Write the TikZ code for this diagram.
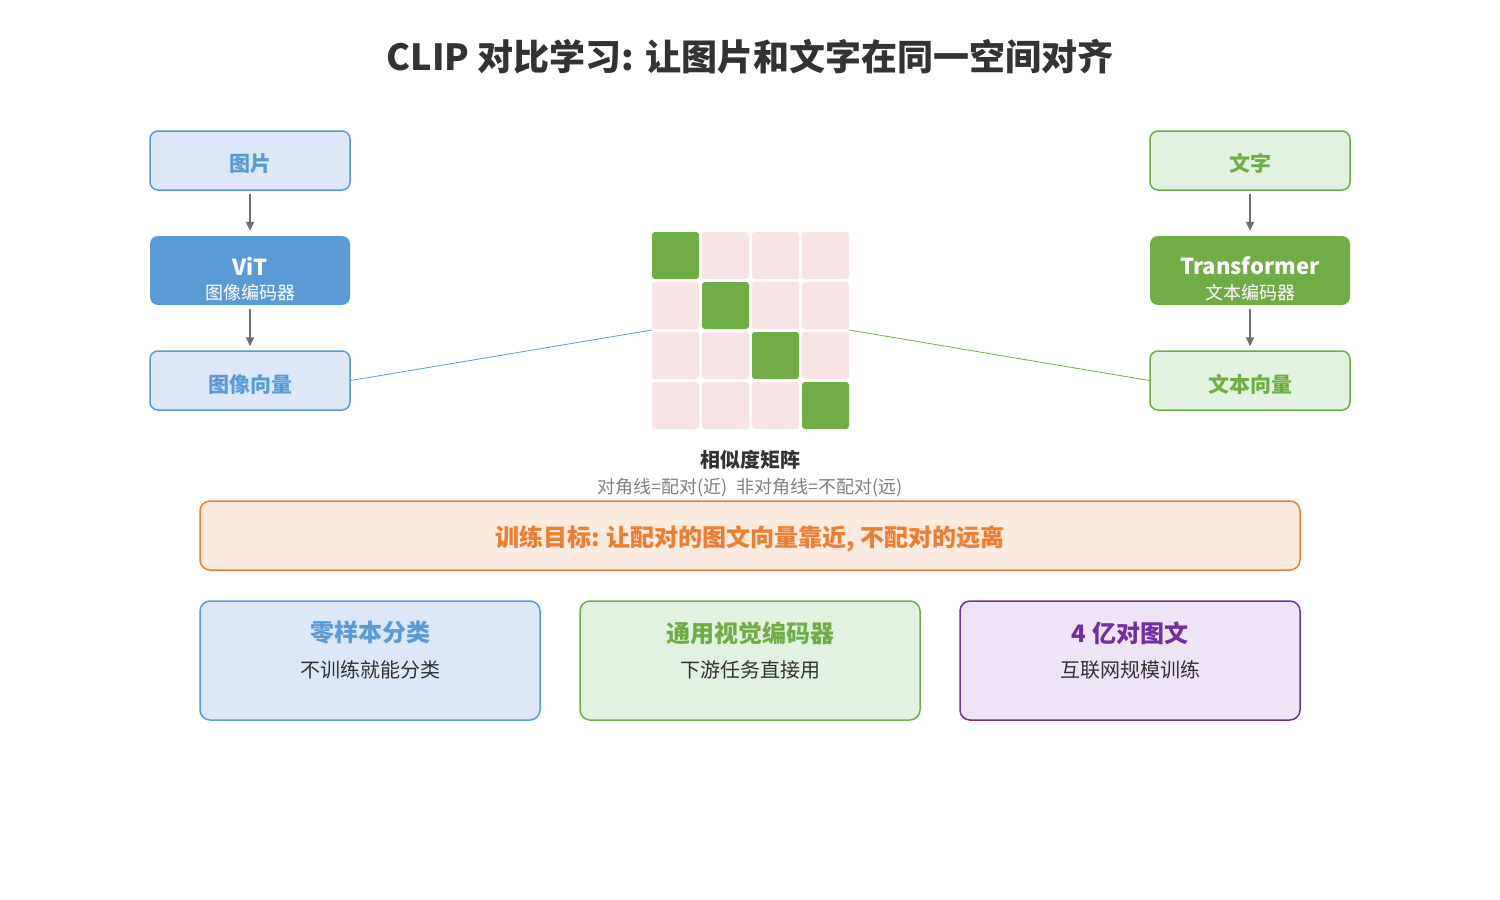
\documentclass[tikz,border=0pt]{standalone}
\usepackage{fontspec}
\setmainfont{Noto Sans CJK SC}
\usetikzlibrary{arrows.meta,calc}
\definecolor{cblue}{HTML}{5B9BD5}
\definecolor{lblue}{HTML}{DCE8F7}
\definecolor{cgreen}{HTML}{70AD47}
\definecolor{lgreen}{HTML}{E2F2E0}
\definecolor{corange}{HTML}{ED7D31}
\definecolor{lorange}{HTML}{FCEBDF}
\definecolor{cpurple}{HTML}{7030A0}
\definecolor{lpurple}{HTML}{EFE3F6}
\definecolor{cpink}{HTML}{F7E4E4}
\definecolor{dtext}{HTML}{333333}
\definecolor{gtext}{HTML}{808080}
\definecolor{arr}{HTML}{707070}
\newcommand{\lowr}[2]{\raisebox{-#1}[\height][\depth]{#2}}
\tikzset{
  x=1pt,y=-1pt,
  box/.style={draw,line width=1.5pt,rounded corners=8pt,minimum width=200pt,minimum height=59pt,inner sep=0pt,font=\fontsize{21}{24}\selectfont\bfseries},
  enc/.style={rounded corners=8pt,minimum width=200pt,minimum height=69pt,inner sep=0pt},
  flow/.style={draw=arr,line width=2pt,-{Triangle[length=9pt,width=8pt]}},
  cell/.style={rounded corners=3pt,minimum size=47pt,inner sep=0pt},
  card/.style={draw,line width=1.5pt,rounded corners=10pt,minimum width=340pt,minimum height=119pt,inner sep=0pt},
}
\begin{document}
\begin{tikzpicture}
\fill[white] (0,0) rectangle (1500,900);
\useasboundingbox (0,0) rectangle (1500,900);
\node[text=dtext,font=\fontsize{36}{42}\selectfont\bfseries] (title) at (750,57) {CLIP 对比学习: 让图片和文字在同一空间对齐};
% left column
\node[box,draw=cblue,fill=lblue,text=cblue] (img) at (250,160.5) {\lowr{3pt}{图片}};
\node[enc,fill=cblue,text=white] (vit) at (250,270.5) {};
\node[text=white,font=\fontsize{22}{26}\selectfont\bfseries] (vitt) at (250,266) {ViT};
\node[text=white,font=\fontsize{18}{21}\selectfont] (vits) at (250,293) {图像编码器};
\node[box,draw=cblue,fill=lblue,text=cblue] (iv) at (250,380.5) {\lowr{4pt}{图像向量}};
\draw[flow] ($(img.south)+(0,3)$) -- ($(vit.north)+(0,-5)$);
\draw[flow] ($(vit.south)+(0,4)$) -- ($(iv.north)+(0,-4)$);
% right column
\node[box,draw=cgreen,fill=lgreen,text=cgreen] (txt) at (1250,160.5) {\lowr{3pt}{文字}};
\node[enc,fill=cgreen,text=white] (tr) at (1250,270.5) {};
\node[text=white,font=\fontsize{22}{26}\selectfont\bfseries] (trt) at (1250,266) {Transformer};
\node[text=white,font=\fontsize{18}{21}\selectfont] (trs) at (1250,293) {文本编码器};
\node[box,draw=cgreen,fill=lgreen,text=cgreen] (tv) at (1250,380.5) {\lowr{4pt}{文本向量}};
\draw[flow] ($(txt.south)+(0,3)$) -- ($(tr.north)+(0,-5)$);
\draw[flow] ($(tr.south)+(0,4)$) -- ($(tv.north)+(0,-4)$);
% matrix
\foreach \i in {0,...,3}{
  \foreach \j in {0,...,3}{
    \ifnum\i=\j
      \node[cell,fill=cgreen] (c\i\j) at (675.5+50*\j,255.5+50*\i) {};
    \else
      \node[cell,fill=cpink] (c\i\j) at (675.5+50*\j,255.5+50*\i) {};
    \fi
  }
}
\coordinate (ml) at (652,330);
\coordinate (mr) at (849,330);
\draw[cblue,line width=0.8pt] (iv.east) -- (ml);
\draw[cgreen,line width=0.8pt] (mr) -- (tv.west);
\node[text=dtext,font=\fontsize{20}{24}\selectfont\bfseries] (mt) at (750,460) {相似度矩阵};
\node[text=gtext,font=\fontsize{18}{21}\selectfont] (ms) at (750,488) {对角线=配对(近)\ \ 非对角线=不配对(远)};
% goal
\node[draw=corange,fill=lorange,line width=1.5pt,rounded corners=10pt,minimum width=1100pt,minimum height=69pt,inner sep=0pt,text=corange,font=\fontsize{24}{28}\selectfont\bfseries] (goal) at (750,535.5) {\lowr{3pt}{训练目标: 让配对的图文向量靠近, 不配对的远离}};
% cards
\node[card,draw=cblue,fill=lblue] (k1) at (370,660.5) {};
\node[text=cblue,font=\fontsize{24}{28}\selectfont\bfseries] (k1t) at (370,633) {零样本分类};
\node[text=dtext,font=\fontsize{20}{24}\selectfont] (k1s) at (370,670) {不训练就能分类};
\node[card,draw=cgreen,fill=lgreen] (k2) at (750,660.5) {};
\node[text=cgreen,font=\fontsize{24}{28}\selectfont\bfseries] (k2t) at (750,633) {通用视觉编码器};
\node[text=dtext,font=\fontsize{20}{24}\selectfont] (k2s) at (750,670) {下游任务直接用};
\node[card,draw=cpurple,fill=lpurple] (k3) at (1130,660.5) {};
\node[text=cpurple,font=\fontsize{24}{28}\selectfont\bfseries] (k3t) at (1130,633) {4 亿对图文};
\node[text=dtext,font=\fontsize{20}{24}\selectfont] (k3s) at (1130,670) {互联网规模训练};
\end{tikzpicture}
\end{document}
